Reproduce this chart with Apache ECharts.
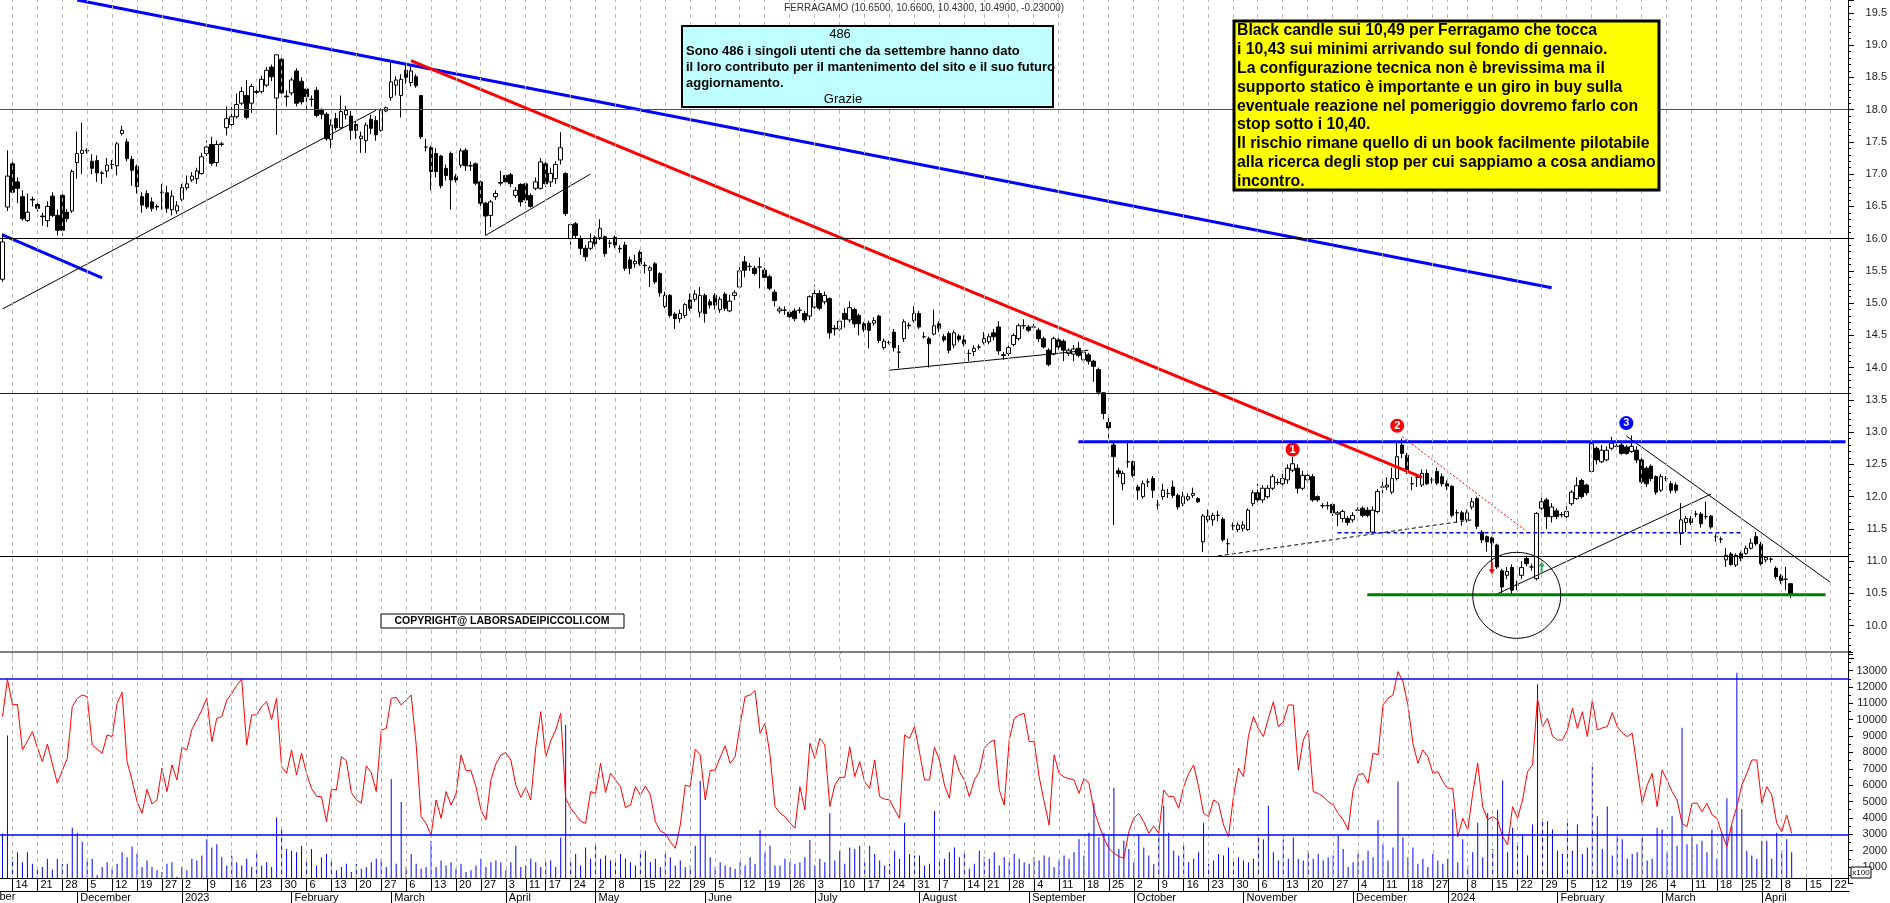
<!DOCTYPE html>
<html><head><meta charset="utf-8">
<script src="https://cdn.jsdelivr.net/npm/echarts@6/dist/echarts.min.js"></script>
<style>html,body{margin:0;padding:0;background:#fff;overflow:hidden}#c{width:1890px;height:903px}</style>
</head><body><div id="c"></div>
<script>
const FONT = 'Liberation Sans, Arial, sans-serif';
// Borsa Italiana closing days in the window
const holidays = ['2022-12-26','2023-04-07','2023-04-10','2023-05-01','2023-08-15','2023-12-25','2023-12-26','2024-01-01','2024-03-29','2024-04-01'];
const monthNames = ['January','February','March','April','May','June','July','August','September','October','November','December'];
const firstDay = '2022-11-10', lastAxisDay = '2024-04-25';

const opens = [15.37,16.49,17.16,16.88,16.65,16.28,16.60,16.53,16.35,16.28,16.66,16.36,16.67,16.41,16.43,17.18,17.32,17.37,17.20,17.21,
17.01,17.05,17.15,17.13,17.63,17.50,17.23,17.12,16.65,16.70,16.57,16.50,16.71,16.71,16.45,16.43,16.61,16.79,16.91,16.93,
17.01,17.32,17.46,17.18,17.46,17.72,17.77,17.89,18.10,18.22,18.10,18.28,18.28,18.38,18.66,18.18,18.78,18.21,18.26,18.60,
18.44,18.32,18.16,18.30,17.99,17.93,17.54,17.86,17.72,17.92,17.90,17.77,17.55,17.52,17.85,17.83,17.68,17.98,18.19,18.38,
18.22,18.61,18.42,18.51,18.22,17.42,17.41,17.32,17.28,17.09,17.32,16.96,17.14,17.37,17.13,17.16,16.88,16.55,16.36,16.65,
16.86,16.98,16.99,16.67,16.84,16.85,16.67,16.78,16.78,17.16,16.88,16.93,17.22,17.01,16.00,16.23,16.00,15.85,15.85,16.02,
16.02,16.03,15.93,16.02,15.84,15.90,15.67,15.61,15.79,15.59,15.51,15.61,15.46,14.95,15.12,14.83,14.76,14.81,15.05,15.06,
14.86,15.12,15.02,15.12,14.90,15.14,14.88,15.12,15.25,15.64,15.57,15.54,15.56,15.51,15.41,15.17,14.88,14.89,14.86,14.88,
14.89,14.84,14.80,14.94,15.15,15.02,15.07,14.61,14.60,14.84,14.74,14.90,14.81,14.68,14.69,14.69,14.80,14.31,14.39,14.55,
14.24,14.45,14.66,14.73,14.84,14.48,14.45,14.52,14.68,14.48,14.53,14.35,14.49,14.43,14.22,14.25,14.32,14.39,14.40,14.54,
14.63,14.20,14.22,14.36,14.45,14.65,14.63,14.63,14.58,14.45,14.27,14.21,14.43,14.41,14.22,14.21,14.30,14.12,14.20,14.10,
13.97,13.61,13.15,12.80,12.40,12.20,12.54,12.54,12.15,12.00,12.23,12.28,11.87,12.00,12.05,12.15,12.02,11.89,11.96,12.02,
11.97,11.30,11.64,11.64,11.71,11.65,11.27,11.55,11.49,11.51,11.49,11.89,12.06,11.95,12.00,12.13,12.22,12.20,12.26,12.41,
12.44,12.13,12.26,12.31,12.00,11.86,11.86,11.88,11.73,11.66,11.66,11.64,11.79,11.82,11.79,11.45,11.77,12.15,12.15,12.07,
12.28,12.80,12.64,12.20,12.30,12.18,12.36,12.26,12.39,12.31,12.20,12.16,11.75,11.75,11.64,11.84,11.97,11.45,11.38,11.36,
11.25,10.85,10.78,10.90,10.63,10.78,11.04,10.91,10.73,11.82,11.95,11.69,11.78,11.72,11.69,11.89,11.97,12.25,12.18,12.39,
12.75,12.54,12.57,12.75,12.78,12.80,12.77,12.70,12.72,12.57,12.44,12.47,12.31,12.10,12.28,12.20,12.18,11.43,11.60,11.66,
11.73,11.73,11.69,11.70,11.38,11.34,11.02,11.11,10.94,11.12,11.12,11.20,11.38,11.26,11.02,11.03,10.89,10.77,10.72,10.65];
const highs = [16.08,17.37,17.20,16.95,16.75,16.70,16.65,16.56,16.40,16.58,16.72,16.45,16.72,16.46,17.07,17.66,17.80,17.40,17.31,17.29,
17.05,17.25,17.22,17.50,17.75,17.55,17.28,17.15,16.72,16.75,16.64,16.53,16.85,16.82,16.75,16.58,16.85,16.98,17.03,17.10,
17.33,17.52,17.58,17.52,17.50,18.05,18.04,18.25,18.35,18.46,18.40,18.35,18.52,18.66,18.70,18.85,18.85,18.30,18.50,18.64,
18.50,18.36,18.22,18.35,18.02,17.96,17.85,17.95,18.22,18.06,17.98,17.82,17.66,17.80,17.92,17.90,18.02,18.05,18.73,18.52,
18.55,18.70,18.67,18.55,18.22,17.55,17.44,17.40,17.30,17.15,17.35,17.00,17.40,17.40,17.20,17.18,16.90,16.57,16.60,16.75,
17.05,17.00,17.02,16.80,16.86,16.88,16.70,16.95,17.25,17.20,17.10,17.20,17.65,17.03,16.25,16.26,16.05,15.90,16.08,16.05,
16.30,16.05,15.98,16.05,15.90,15.95,15.72,15.75,15.82,15.64,15.58,15.64,15.48,15.18,15.14,14.86,14.90,15.00,15.15,15.20,
15.25,15.15,15.06,15.15,15.10,15.17,15.13,15.20,15.56,15.73,15.62,15.58,15.71,15.55,15.44,15.21,14.95,14.95,14.90,14.92,
14.94,14.88,15.12,15.28,15.20,15.18,15.09,14.66,14.76,14.92,15.03,14.93,14.84,14.71,14.73,14.78,14.82,14.45,14.42,14.60,
14.35,14.75,14.70,14.95,14.88,14.55,14.48,14.90,14.72,14.52,14.56,14.58,14.52,14.50,14.28,14.35,14.36,14.55,14.53,14.60,
14.72,14.24,14.35,14.53,14.68,14.75,14.66,14.68,14.62,14.48,14.30,14.48,14.46,14.44,14.30,14.35,14.40,14.27,14.23,14.12,
14.00,13.62,13.25,12.86,12.45,12.40,12.87,12.56,12.18,12.25,12.28,12.32,11.95,12.20,12.12,12.25,12.05,12.08,12.05,12.14,
11.99,11.73,11.80,11.75,11.78,11.68,11.35,11.60,11.60,11.62,11.82,12.10,12.20,12.18,12.18,12.35,12.28,12.35,12.50,12.62,
12.50,12.40,12.38,12.35,12.02,11.90,11.92,11.91,11.78,11.80,11.70,11.76,11.84,11.85,11.84,11.85,12.12,12.25,12.30,12.45,
12.85,12.90,12.68,12.30,12.35,12.42,12.42,12.30,12.45,12.36,12.25,12.18,11.80,11.78,11.80,11.98,12.00,11.48,11.40,11.38,
11.27,10.88,10.91,10.95,10.70,11.00,11.08,10.96,11.76,12.05,11.98,11.90,11.82,11.76,11.85,12.10,12.30,12.28,12.20,12.85,
12.78,12.80,12.78,12.93,12.82,12.85,12.80,12.95,12.78,12.60,12.47,12.50,12.33,12.35,12.32,12.24,12.22,11.90,11.70,11.70,
11.78,11.76,11.92,11.72,11.42,11.38,11.20,11.14,11.12,11.15,11.24,11.35,11.45,11.30,11.08,11.06,10.92,10.80,10.91,10.66];
const lows = [15.33,16.43,16.69,16.55,16.28,16.26,16.50,16.42,16.20,16.18,16.33,16.05,16.05,16.26,16.40,16.93,17.00,17.32,17.00,16.88,
16.85,16.95,17.08,16.98,17.60,17.20,16.82,16.70,16.40,16.46,16.42,16.44,16.45,16.40,16.36,16.38,16.58,16.75,16.88,16.85,
16.99,17.28,17.13,17.12,17.43,17.60,17.74,17.86,18.07,17.85,17.95,18.20,18.25,18.35,18.44,17.61,18.20,18.05,18.22,18.05,
18.08,17.95,18.05,17.88,17.85,17.52,17.40,17.68,17.70,17.85,17.53,17.55,17.33,17.33,17.62,17.52,17.66,17.96,18.14,18.22,
17.88,18.40,18.36,18.34,17.55,17.35,16.75,16.95,16.78,16.90,16.45,16.87,17.10,17.05,17.05,16.83,16.45,16.05,16.18,16.60,
16.82,16.85,16.80,16.63,16.50,16.55,16.48,16.75,16.76,16.80,16.80,16.85,17.15,16.35,15.90,16.00,15.75,15.65,15.82,15.88,
15.98,15.72,15.86,15.85,15.78,15.50,15.45,15.55,15.58,15.46,15.25,15.30,15.10,14.92,14.78,14.60,14.70,14.77,14.88,15.02,
14.78,14.70,14.92,14.90,14.85,14.88,14.86,15.05,15.22,15.40,15.50,15.43,15.23,15.36,15.20,14.95,14.84,14.82,14.76,14.72,
14.84,14.70,14.74,14.91,14.89,14.98,14.45,14.50,14.57,14.62,14.70,14.62,14.50,14.55,14.30,14.65,14.38,14.28,14.36,14.25,
13.99,14.40,14.60,14.70,14.60,14.45,14.00,14.50,14.55,14.40,14.22,14.30,14.40,14.33,14.10,14.18,14.28,14.36,14.36,14.42,
14.20,14.12,14.18,14.33,14.42,14.60,14.55,14.58,14.40,14.30,14.02,14.19,14.28,14.10,14.18,14.10,14.16,14.08,14.05,13.78,
13.58,13.20,12.89,11.56,12.30,12.10,12.45,12.30,11.95,11.97,12.15,11.98,11.80,11.95,11.98,11.98,11.80,11.85,11.93,11.98,
11.90,11.14,11.60,11.55,11.62,11.30,11.12,11.48,11.45,11.46,11.47,11.85,11.92,11.90,11.97,12.10,12.18,12.17,12.20,12.38,
12.05,12.10,12.22,11.92,11.92,11.82,11.80,11.70,11.54,11.60,11.55,11.60,11.74,11.68,11.68,11.43,11.74,12.05,12.10,12.04,
12.25,12.60,12.35,12.10,12.15,12.15,12.18,12.20,12.18,12.16,12.10,11.68,11.60,11.55,11.60,11.80,11.50,11.28,11.15,10.95,
10.88,10.50,10.72,10.48,10.55,10.72,10.92,10.85,10.70,11.78,11.50,11.60,11.65,11.68,11.66,11.86,11.95,11.97,12.02,12.35,
12.50,12.52,12.55,12.72,12.74,12.65,12.65,12.68,12.52,12.20,12.15,12.24,12.03,12.07,12.24,12.05,12.06,11.25,11.45,11.56,
11.68,11.52,11.65,11.50,11.30,11.28,10.91,10.93,10.91,11.00,11.10,11.18,11.24,10.93,10.98,10.98,10.72,10.65,10.55,10.43];
const closes = [15.95,16.97,16.72,16.78,16.31,16.41,16.61,16.47,16.34,16.50,16.36,16.13,16.13,16.31,17.04,17.32,17.37,17.36,17.09,17.02,
17.02,17.14,17.15,17.47,17.68,17.24,17.06,16.81,16.52,16.49,16.47,16.49,16.72,16.47,16.66,16.51,16.79,16.85,16.97,17.05,
17.27,17.42,17.17,17.46,17.47,17.86,17.89,18.08,18.28,17.88,18.36,18.27,18.47,18.61,18.51,18.85,18.26,18.20,18.46,18.10,
18.12,18.20,18.16,17.91,17.93,17.55,17.76,17.72,17.97,17.99,17.68,17.68,17.59,17.76,17.71,17.61,17.99,18.03,18.43,18.46,
18.47,18.50,18.60,18.37,17.58,17.42,17.04,17.04,16.82,16.98,16.91,16.91,17.36,17.13,17.13,16.86,16.55,16.35,16.57,16.70,
16.87,16.88,16.85,16.75,16.57,16.60,16.50,16.88,17.19,16.85,17.01,17.15,17.41,16.39,16.22,16.05,15.85,15.72,15.95,15.92,
16.16,15.77,15.93,15.90,15.85,15.54,15.54,15.65,15.61,15.58,15.55,15.33,15.16,15.12,14.81,14.76,14.84,14.98,14.92,15.14,
15.12,14.84,14.97,14.97,15.06,14.92,15.03,15.16,15.50,15.51,15.57,15.46,15.56,15.40,15.23,15.04,14.91,14.89,14.79,14.76,
14.89,14.74,15.10,15.15,14.92,15.12,14.54,14.60,14.72,14.75,14.93,14.68,14.68,14.59,14.58,14.73,14.42,14.41,14.39,14.31,
14.24,14.71,14.65,14.84,14.63,14.48,14.37,14.65,14.61,14.43,14.27,14.54,14.44,14.37,14.22,14.30,14.32,14.45,14.48,14.48,
14.26,14.19,14.31,14.50,14.65,14.65,14.58,14.63,14.45,14.32,14.05,14.45,14.32,14.27,14.27,14.29,14.19,14.24,14.10,14.02,
13.62,13.29,13.07,12.62,12.36,12.36,12.54,12.33,12.10,12.20,12.23,12.10,11.87,12.10,12.05,12.02,11.84,12.00,12.00,12.05,
11.92,11.70,11.70,11.71,11.71,11.33,11.27,11.55,11.56,11.56,11.79,12.06,11.95,12.13,12.13,12.31,12.22,12.28,12.44,12.51,
12.13,12.33,12.33,11.95,11.95,11.86,11.86,11.75,11.75,11.77,11.60,11.71,11.79,11.71,11.71,11.79,12.08,12.15,12.18,12.28,
12.62,12.67,12.39,12.20,12.30,12.36,12.20,12.26,12.21,12.20,12.16,11.71,11.75,11.64,11.75,11.92,11.54,11.33,11.30,11.28,
10.91,10.60,10.84,10.55,10.63,10.90,10.96,10.91,11.74,11.92,11.69,11.84,11.69,11.72,11.77,12.07,12.17,12.00,12.06,12.82,
12.57,12.72,12.72,12.83,12.78,12.67,12.67,12.78,12.57,12.23,12.20,12.28,12.07,12.31,12.28,12.10,12.10,11.64,11.66,11.60,
11.73,11.58,11.69,11.53,11.38,11.34,11.09,10.95,11.09,11.04,11.20,11.28,11.27,10.96,11.06,11.03,10.76,10.70,10.72,10.49];
const volumes = [3050,9030,1600,1900,1300,1900,1200,820,1000,1500,850,1500,1200,1200,3400,3100,2550,1400,1500,500,
1000,1300,900,1200,1900,1600,2250,1800,1000,1400,1000,800,700,1200,1300,400,1000,800,1500,1400,
1700,2700,2200,2400,1600,1100,1700,1300,1100,1500,1000,1900,1100,1300,1000,4020,3270,2100,2000,1900,
2300,1300,2100,1100,1600,1800,1500,800,1000,1200,700,1200,900,1000,1300,1500,1500,1000,6380,1200,
4975,1000,1800,1200,900,1000,2590,1000,1400,1100,1300,900,1200,700,800,1100,1500,1000,1300,1400,
1300,800,1300,2300,1000,1100,1500,1300,1000,1300,1400,1000,2800,9680,1300,1800,1100,2200,1500,2400,
1500,1700,1400,1300,1800,1500,1300,1100,1800,2000,1300,1500,1000,1800,1600,1100,1400,1000,1100,2300,
6260,2920,1600,1000,1300,1100,1000,900,1300,1100,1600,1200,3270,1900,2300,1100,1100,1500,1300,1200,
1300,1600,2650,1100,1500,1300,4300,1400,2000,1200,2200,2100,2300,1300,2300,1800,1400,1100,1200,2000,
1500,3710,1800,1700,1700,1100,1200,4420,1500,1500,1900,2200,1600,1900,900,1200,2000,1600,1500,1900,
1100,1600,1300,1800,1500,1300,1200,1600,1400,1700,1600,1000,1400,1700,1500,1900,2700,1700,3100,4890,
2800,3100,2900,5850,2100,2600,2100,1300,3000,2200,1700,1200,2900,4750,3100,2000,1700,2300,1300,1500,
1900,3710,1200,1400,1800,1700,2200,1500,1600,1400,1300,1500,2900,2700,4750,1900,1400,2700,1500,2800,
1500,1400,2000,1500,1800,1400,1600,1700,2900,2100,1000,1300,1800,1400,2000,1600,3860,2400,1400,2200,
6220,2800,1600,2200,1200,1500,1000,1800,1400,1200,1500,4550,1300,2700,1100,1900,3700,1600,4300,2100,
4500,6280,1900,3400,2500,3000,1700,3600,12160,3900,3800,3300,2000,1800,3700,2000,3600,1800,2200,7130,
4100,2100,4700,1700,2900,2700,1500,1800,1900,2800,1400,1500,3400,3300,1900,4100,2300,9515,2400,2900,
2400,2600,1900,3300,1500,3100,5200,3500,12875,4550,2000,1700,1500,2600,2600,1500,3100,2000,2700,1900];
const volOsc = [10190,12470,10900,10940,8150,8700,9270,8300,7440,8520,7300,6120,6900,7640,10800,11300,11510,11410,8460,8200,
7950,9070,8970,11000,11670,7440,6300,5000,4280,5750,4850,5100,7030,5610,7240,6320,8310,8150,9410,9980,
10600,11310,8660,10080,10190,11200,11600,12100,12470,8460,10290,10290,10800,11100,10020,11310,7130,6730,8150,6620,
7950,6730,5800,5330,5300,3770,5750,5710,7740,7500,5550,5100,4900,7170,6770,5610,9370,9470,11310,11370,
10900,11200,11510,8500,4080,3670,2960,5100,3980,5610,4790,5460,7850,6890,6890,5910,4490,3880,6320,7300,
7850,7990,7540,6000,5260,5870,5100,8310,10490,7740,8700,9370,10390,5200,4600,4200,3800,3670,5610,5500,
7340,5550,6730,6320,5910,4630,4790,5910,5400,5950,5400,3770,3200,3050,2550,2140,3570,6010,5910,8190,
7850,5100,6890,6930,7700,8400,7340,7740,9680,11410,11510,11780,9170,9780,7850,4690,4300,4080,3700,3370,
5910,4490,8560,7640,8860,8460,4690,6000,6480,6480,8350,6520,7440,6200,5800,7540,5300,5150,5100,4500,
3980,9070,8860,9580,8000,6320,6320,8310,7540,6010,5200,7850,6830,6320,5300,6320,6830,8250,8600,8760,
5710,4790,8760,10080,10300,10390,8660,8660,6520,5000,3570,7850,6730,6500,6400,6320,5500,6420,6120,4490,
3570,2760,2140,1840,1650,1530,3160,4000,4280,3770,3060,3500,3060,5710,5300,5300,4590,5910,6700,7240,
5910,4280,4080,5100,4900,3570,2860,5300,7030,6520,9000,10190,9470,8970,10080,11100,9580,9880,10900,10900,
6930,8760,9370,5610,5500,5300,5000,4790,4280,3880,3270,5710,6620,6730,6120,7950,7850,10900,11310,11510,
12940,12320,10900,8560,7340,8150,7740,6730,6830,6220,5810,5810,2860,3980,3270,5500,7340,4690,3880,4080,
3880,2860,2350,4690,3980,5100,6830,7240,11310,9580,10080,9000,8760,8760,9370,10700,9470,10490,8970,11200,
9370,9500,9580,10430,9580,9200,8970,9170,7030,4900,6000,6730,4690,6930,6300,5610,5100,3670,3470,4900,
4900,4380,4890,4200,3980,3060,2250,3670,4690,6000,6730,7540,7540,4890,5910,5400,3670,3160,4180,3060];

// annotation lines in [tradingDayIndex, price]
const blueLongTrend = [[15,19.70],[311,15.24]];
const blueShortTrend = [[0,16.06],[20,15.39]];
const blackRiseTrend = [[0,14.91],[75,17.99]];
const redDownTrend = [[82,18.76],[285,12.30]];
const blackAprTrend = [[97,16.05],[118,17.00]];
const blackSummerTrend = [[178,13.96],[218,14.27]];
const blackDashedTrend = [[244,11.08],[295,11.64]];
const redDottedTrend = [[281,12.93],[306,11.46]];
const blackJanTrend = [[300,10.49],[343,12.04]];
const blackFebTrend = [[326,12.94],[367,10.67]];
const blueThickLevel = [[216,12.85],[370,12.85]];
const greenLevel = [[274,10.48],[366,10.48]];
const blueDashedLevel = [[268,11.44],[349,11.44]];
const priceLevels = [{v:18.0,c:'#ff0000'},{v:16.0,c:'#000000'},{v:13.6,c:'#0000ff'},{v:11.07,c:'#000000'}];
const volLevels = [12500, 3000];

// trading days
const dates = [];
(function(){
  let t = Date.parse(firstDay+'T00:00:00Z'); const end = Date.parse(lastAxisDay+'T00:00:00Z');
  while (t <= end) { const d = new Date(t); const wd = d.getUTCDay(); const s = d.toISOString().slice(0,10);
    if (wd !== 0 && wd !== 6 && holidays.indexOf(s) < 0) dates.push(s); t += 86400000; }
})();
const dow = s => new Date(s+'T00:00:00Z').getUTCDay();
const weekStart = dates.map((s,i)=> i>0 && (dow(s) <= dow(dates[i-1]) || (Date.parse(s)-Date.parse(dates[i-1]))>=7*86400000));
const monthStart = dates.map((s,i)=> i>0 && s.slice(5,7) !== dates[i-1].slice(5,7));
const weekIdx = []; weekStart.forEach((w,i)=>{ if(w) weekIdx.push(i); });

const candles = opens.map((o,i)=>[o, closes[i], lows[i], highs[i]]);

function lineSeries(data, color, width, type, z){
  return {type:'line', xAxisIndex:0, yAxisIndex:0, data:data, symbol:'none', silent:true, z:z||4,
    lineStyle:{color:color, width:width, type:type||'solid'}, animation:false};
}

const chart = echarts.init(document.getElementById('c'), null, {renderer:'canvas', width:1890, height:903});
const option = {
  animation:false,
  backgroundColor:'#ffffff',
  grid:[
    {left:0, top:0, width:1849, height:657.9},
    {left:0, top:652, width:1849, height:226},
    {left:0, top:652, width:1849, height:231.4}
  ],
  xAxis:[
    {type:'category', gridIndex:0, data:dates, show:false},
    {type:'category', gridIndex:1, data:dates, position:'bottom',
      axisLine:{show:true, lineStyle:{color:'#000', width:1}},
      axisTick:{show:true, alignWithLabel:true, interval:(i)=>weekStart[i], length:13, lineStyle:{color:'#000', width:1}},
      axisLabel:{show:true, interval:(i)=>weekStart[i], align:'left', margin:1, padding:[0,0,0,3],
        fontFamily:FONT, fontSize:11, color:'#000',
        formatter:(v,i)=> (weekStart[i] && v !== '2024-01-02') ? String(+v.slice(8)) : ''},
      splitLine:{show:false}},
    {type:'category', gridIndex:1, data:dates, position:'bottom', offset:13,
      axisLine:{show:true, lineStyle:{color:'#000', width:1}},
      axisTick:{show:true, alignWithLabel:true, interval:(i)=>monthStart[i], length:12, lineStyle:{color:'#000', width:1}},
      axisLabel:{show:true, interval:(i)=>monthStart[i], align:'left', margin:1, padding:[0,0,0,3],
        fontFamily:FONT, fontSize:11, color:'#000',
        formatter:(v,i)=>{ if(!monthStart[i]) return ''; const m=+v.slice(5,7); return m===1 ? v.slice(0,4) : monthNames[m-1]; }},
      splitLine:{show:false}},
    {type:'category', gridIndex:2, data:dates, show:false}
  ],
  yAxis:[
    {type:'value', gridIndex:0, position:'right', min:9.5, max:19.7, interval:0.5,
      axisLine:{show:true, lineStyle:{color:'#000', width:1}},
      axisTick:{show:true, inside:false, length:6, lineStyle:{color:'#000'}},
      minorTick:{show:true, splitNumber:5, length:3, lineStyle:{color:'#000'}},
      splitLine:{show:false},
      axisLabel:{show:true, align:'right', margin:39, fontFamily:FONT, fontSize:11, color:'#222',
        formatter:v=> (v>=9.9 && Math.abs(v*2-Math.round(v*2))<1e-6) ? v.toFixed(1) : ''}},
    {type:'value', gridIndex:1, min:331, max:14136, show:false, splitLine:{show:false}},
    {type:'value', gridIndex:2, position:'right', min:0, max:14136, interval:1000,
      axisLine:{show:true, lineStyle:{color:'#000', width:1}},
      axisTick:{show:true, length:5, lineStyle:{color:'#000'}},
      minorTick:{show:true, splitNumber:2, length:3, lineStyle:{color:'#000'}},
      splitLine:{show:false},
      axisLabel:{show:true, align:'right', margin:39, fontFamily:FONT, fontSize:11, color:'#222',
        formatter:v=> (v>0 && v<=13000 && v%1000===0) ? String(v) : ''}}
  ],
  series:[
    {type:'line', xAxisIndex:0, yAxisIndex:0, data:[], silent:true, z:1,
      markLine:{silent:true, symbol:'none', animation:false, label:{show:false},
        lineStyle:{color:'#b8b8b8', width:1, type:[4,4]}, data:weekIdx.map(i=>({xAxis:i}))}},
    {type:'line', xAxisIndex:1, yAxisIndex:1, data:[], silent:true, z:1,
      markLine:{silent:true, symbol:'none', animation:false, label:{show:false},
        lineStyle:{color:'#b8b8b8', width:1, type:[4,4]}, data:weekIdx.map(i=>({xAxis:i}))}},
    {type:'candlestick', xAxisIndex:0, yAxisIndex:0, data:candles, barWidth:4, z:3, silent:true,
      itemStyle:{color:'#ffffff', color0:'#000000', borderColor:'#000000', borderColor0:'#000000', borderWidth:1}},
    {type:'line', xAxisIndex:0, yAxisIndex:0, data:[], silent:true, z:4,
      markLine:{silent:true, symbol:'none', animation:false, label:{show:false},
        data: priceLevels.map(p=>({yAxis:p.v, lineStyle:{color:p.c, width:1, type:'solid'}}))}},
    lineSeries(blueLongTrend, '#0000ff', 3),
    lineSeries(blueShortTrend, '#0000ff', 3),
    lineSeries(blackRiseTrend, '#000000', 1),
    lineSeries(redDownTrend, '#ff0000', 3),
    lineSeries(blackAprTrend, '#000000', 1),
    lineSeries(blackSummerTrend, '#000000', 1),
    lineSeries(blackDashedTrend, '#000000', 1, [4,3]),
    lineSeries(redDottedTrend, '#ff0000', 1, [2,2]),
    lineSeries(blackJanTrend, '#000000', 1),
    lineSeries(blackFebTrend, '#000000', 1),
    lineSeries(blueThickLevel, '#0000ff', 3),
    lineSeries(greenLevel, '#008000', 3),
    lineSeries(blueDashedLevel, '#0000ff', 1.5, [4,3]),
    {type:'bar', xAxisIndex:1, yAxisIndex:1, data:volumes, barWidth:1, silent:true, z:2,
      itemStyle:{color:'#0000ff'}},
    {type:'line', xAxisIndex:1, yAxisIndex:1, data:volOsc, symbol:'none', silent:true, z:3,
      lineStyle:{color:'#ff0000', width:1},
      markLine:{silent:true, symbol:'none', animation:false, label:{show:false},
        lineStyle:{color:'#0000ff', width:1.5, type:'solid'}, data:volLevels.map(v=>({yAxis:v}))}}
  ]
};
chart.setOption(option);

// annotations positioned from data coordinates
const px = (i,p)=> chart.convertToPixel({xAxisIndex:0, yAxisIndex:0}, [i,p]);
const m1 = px(259,12.73), m2 = px(280,13.10), m3 = px(326,13.14);
const arDown = px(299,10.89), arUp = px(309,10.90), circ = px(304,10.47);
const nov = chart.convertToPixel({xAxisIndex:2, yAxisIndex:1}, [0, 331]);
function marker(p, color, txt){
  return {type:'group', z:60, children:[
    {type:'circle', shape:{cx:p[0], cy:p[1], r:7}, style:{fill:color}},
    {type:'text', x:p[0], y:p[1], style:{text:txt, fill:'#fff', font:'bold 11px '+FONT, align:'center', verticalAlign:'middle'}}
  ]};
}
const yellowLines = ['Black candle sui 10,49 per Ferragamo che tocca','i 10,43 sui minimi arrivando sul fondo di gennaio.',
 'La configurazione tecnica non è brevissima ma il','supporto statico è importante e un giro in buy sulla',
 'eventuale reazione nel pomeriggio dovremo farlo con','stop sotto i 10,40.',
 'Il rischio rimane quello di un book facilmente pilotabile','alla ricerca degli stop per cui sappiamo a cosa andiamo','incontro.'];
const cyanLines = ['Sono 486 i singoli utenti che da settembre hanno dato','il loro contributo per il mantenimento del sito e il suo futuro','aggiornamento.'];
const g = [];
g.push({type:'text', x:924, y:8, z:50, style:{text:'FERRAGAMO (10.6500, 10.6600, 10.4300, 10.4900, -0.23000)', font:'10px '+FONT, fill:'#333', align:'center', verticalAlign:'middle'}});
g.push({type:'rect', z:50, shape:{x:682, y:26, width:371, height:81}, style:{fill:'#c0ffff', stroke:'#000', lineWidth:2}});
g.push({type:'text', z:51, x:840, y:34, style:{text:'486', font:'13px '+FONT, fill:'#000', align:'center', verticalAlign:'middle'}});
cyanLines.forEach((t,k)=> g.push({type:'text', z:51, x:686, y:51+k*16.3, style:{text:t, font:'bold 13px '+FONT, fill:'#000', align:'left', verticalAlign:'middle'}}));
g.push({type:'text', z:51, x:843, y:99.5, style:{text:'Grazie', font:'13px '+FONT, fill:'#000', align:'center', verticalAlign:'middle'}});
g.push({type:'rect', z:50, shape:{x:1234, y:21, width:425, height:169}, style:{fill:'#ffff00', stroke:'#000', lineWidth:3}});
yellowLines.forEach((t,k)=> g.push({type:'text', z:51, x:1237, y:31+k*18.8, style:{text:t, font:'bold 15.8px '+FONT, fill:'#000', align:'left', verticalAlign:'middle'}}));
g.push({type:'rect', z:50, shape:{x:381, y:614, width:243, height:14}, style:{fill:'#fff', stroke:'#000', lineWidth:1}});
g.push({type:'text', z:51, x:502, y:621, style:{text:'COPYRIGHT@ LABORSADEIPICCOLI.COM', font:'bold 10.5px '+FONT, fill:'#000', align:'center', verticalAlign:'middle'}});
g.push({type:'line', z:50, shape:{x1:0, y1:652, x2:1849, y2:652}, style:{stroke:'#000', lineWidth:1}});
g.push(marker(m1,'#ff0000','1')); g.push(marker(m2,'#ff0000','2')); g.push(marker(m3,'#0000ff','3'));
g.push({type:'ellipse', z:60, shape:{cx:circ[0], cy:circ[1], rx:44, ry:43}, style:{fill:'none', stroke:'#000', lineWidth:1}});
g.push({type:'polygon', z:60, shape:{points:[[arDown[0]-3,arDown[1]+1],[arDown[0]+3,arDown[1]+1],[arDown[0],arDown[1]+6]]}, style:{fill:'#ff0000'}});
g.push({type:'rect', z:60, shape:{x:arDown[0]-1, y:arDown[1]-6, width:2, height:8}, style:{fill:'#ff0000'}});
g.push({type:'polygon', z:60, shape:{points:[[arUp[0]-3,arUp[1]-1],[arUp[0]+3,arUp[1]-1],[arUp[0],arUp[1]-6]]}, style:{fill:'#33aa66'}});
g.push({type:'rect', z:60, shape:{x:arUp[0]-1, y:arUp[1]-2, width:2, height:8}, style:{fill:'#33aa66'}});
g.push({type:'text', z:51, x:nov[0]-7*4.984-3, y:897, style:{text:'November', font:'11px '+FONT, fill:'#000', align:'left', verticalAlign:'middle'}});
g.push({type:'rect', z:70, shape:{x:1851, y:867, width:20, height:11}, style:{fill:'#fff', stroke:'#000', lineWidth:1}});
g.push({type:'text', z:71, x:1861, y:873, style:{text:'x100', font:'8px '+FONT, fill:'#000', align:'center', verticalAlign:'middle'}});
chart.setOption({graphic:g});
</script>
</body></html>
